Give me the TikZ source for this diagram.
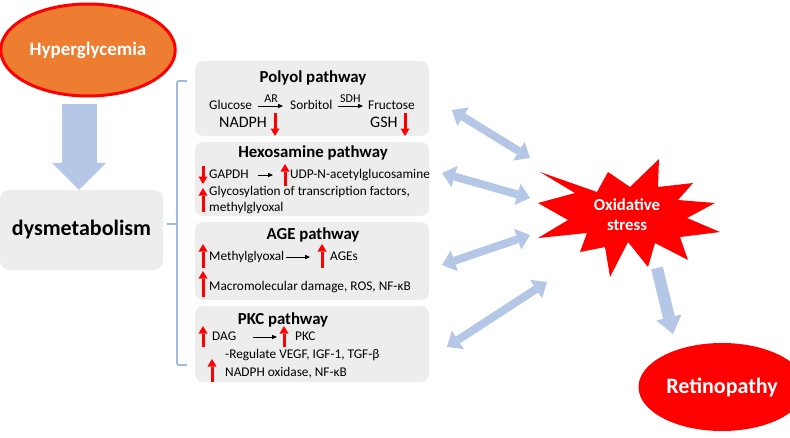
\documentclass[tikz,border=0pt]{standalone}
\usepackage{fontspec}
\setmainfont{Carlito}
\usetikzlibrary{arrows.meta,positioning,shapes.geometric}
\definecolor{boxgray}{HTML}{EDEDED}
\definecolor{flowblue}{HTML}{B4C7E7}
\definecolor{bracketblue}{HTML}{A2B9E2}
\definecolor{hyperorange}{HTML}{ED7D31}

\begin{document}
\begin{tikzpicture}[x=1pt,y=-1pt,
 pathbox/.style={fill=boxgray,rounded corners=8pt,minimum width=234pt,inner sep=0pt},
 title/.style={font=\bfseries\fontsize{16.8}{18}\selectfont,inner sep=0pt},
 txt/.style={font=\fontsize{13.3}{15}\selectfont,inner sep=0pt,text height=9.3pt,text depth=2.9pt,anchor=west},
 bigtxt/.style={txt,font=\fontsize{16}{18}\selectfont,text height=11pt,text depth=3.4pt},
 lbl/.style={font=\fontsize{12}{14}\selectfont,inner sep=0pt},
 react/.style={draw,line width=0.7pt,-{Triangle[width=4.5pt,length=5pt,line width=0pt]}},
 redarr/.style={draw=red,line width=3pt,-{Triangle[width=9pt,length=7.5pt,line width=0pt]}},
 flow/.style={draw=flowblue,line width=8pt,
 {Triangle[width=22pt,length=13pt,line width=0pt]}-{Triangle[width=22pt,length=13pt,line width=0pt]}},
 bigflow/.style={draw=flowblue,line width=35pt,-{Triangle[width=54pt,length=27pt,line width=0pt]}},
 outflow/.style={draw=flowblue,line width=12pt,-{Triangle[width=26pt,length=17pt,line width=0pt]}},
 bracket/.style={draw=bracketblue,line width=1.8pt,rounded corners=2pt}]
\useasboundingbox (0,0) rectangle (790,437);

\node[ellipse,draw=red,line width=3pt,fill=hyperorange,minimum width=139pt,minimum height=92pt,
 font=\bfseries\fontsize{19}{21}\selectfont,text=white] (hyper) at (88,50) {Hyperglycemia};
\node[fill=boxgray,rounded corners=9pt,minimum width=163pt,minimum height=80pt,
 font=\bfseries\fontsize{22}{25}\selectfont] (dysm) at (81.5,230) {dysmetabolism};
\draw[bigflow] ([xshift=-2.5pt,yshift=-6pt]hyper.south -| dysm.north) -- ([xshift=-2.5pt]dysm.north);

\draw[bracket] (187,81) -- (177,81) -- (177,365) -- (187,365);
\draw[bracket] (177,224) -- (167,224);

% pathway boxes
\node[pathbox,minimum height=75pt] (polyol) at (312,98.5) {};
\node[pathbox,minimum height=74pt] (hexo) at (312,179) {};
\node[pathbox,minimum height=78pt] (age) at (312,261) {};
\node[pathbox,minimum height=76pt] (pkc) at (312,344) {};

\node[title] at (313,78) {Polyol pathway};
\node[txt] (glucose) at (209,106) {Glucose};
\node[txt] (sorbitol) at (290,106) {Sorbitol};
\node[txt] (fructose) at (368,106) {Fructose};
\draw[react,shorten <=6pt,shorten >=7pt] (glucose) -- node[lbl,above=3pt] {AR} (sorbitol);
\draw[react,shorten <=5pt,shorten >=5pt] (sorbitol) -- node[lbl,above=3pt] {SDH} (fructose);
\node[bigtxt] (nadph) at (219,124) {NADPH};
\node[bigtxt] (gsh) at (370,124) {GSH};
\draw[redarr] (275,113) -- (275,136);
\draw[redarr] (405,113) -- (405,136);

\node[title] at (313,153) {Hexosamine pathway};
\node[txt] (gapdh) at (209,175) {GAPDH};
\node[txt] (udp) at (290,175) {UDP-N-acetylglucosamine};
\draw[react,shorten <=9pt,shorten >=17pt] (gapdh) -- (udp);
\node[txt] (glyco) at (209,192) {Glycosylation of transcription factors,};
\node[txt] (mgo) at (209,208) {methylglyoxal};
\draw[redarr] (203,166) -- (203,184);
\draw[redarr] (285,186) -- (285,164);
\draw[redarr] (203,212) -- (203,188);

\node[title] at (313,235) {AGE pathway};
\node[txt] (methyl) at (209,257) {Methylglyoxal};
\node[txt] (ages) at (330,257) {AGEs};
\draw[react,shorten <=2pt,shorten >=20pt] (methyl) -- (ages);
\node[txt] (macro) at (209,287) {Macromolecular damage, ROS, NF-κB};
\draw[redarr] (203,268) -- (203,244);
\draw[redarr] (322,268) -- (322,244);
\draw[redarr] (203,297) -- (203,271);

\node[title] at (283,320) {PKC pathway};
\node[txt] (dag) at (212,337) {DAG};
\node[txt] (pkctxt) at (295,337) {PKC};
\draw[react,shorten <=17pt,shorten >=18pt] (dag) -- (pkctxt);
\node[txt] (vegf) at (225,355) {-Regulate VEGF, IGF-1, TGF-β};
\node[txt] (nox) at (225,373) {NADPH oxidase, NF-κB};
\draw[redarr] (203,347) -- (203,326);
\draw[redarr] (284,347) -- (284,326);
\draw[redarr] (212,382) -- (212,359);

% oxidative stress
\fill[red] (540,172) -- (597,192) -- (608,172) -- (630,187) -- (659,159) -- (658,187)
 -- (693,183) -- (678,200) -- (715,203) -- (687,218) -- (720,232) -- (680,237)
 -- (688,260) -- (655,243) -- (648,267) -- (628,242) -- (610,277) -- (605,247)
 -- (580,252) -- (587,233) -- (538,238) -- (568,220) -- (538,203) -- (575,193) -- cycle;
\node[align=center,text=white,font=\bfseries\fontsize{16.8}{20}\selectfont] (ox) at (627,215) {Oxidative\\stress};

\node[ellipse,fill=red,minimum width=130pt,minimum height=88pt,
 font=\bfseries\fontsize{22}{24}\selectfont,text=white] (retina) at (722,387) {Retinopathy};

\coordinate (b1) at (452,110); \coordinate (s1) at (530,158);
\coordinate (b2) at (442,173); \coordinate (s2) at (530,198);
\coordinate (b3) at (442,265); \coordinate (s3) at (530,235);
\coordinate (b4) at (447,347); \coordinate (s4) at (547,282);
\draw[flow] (b1) -- (s1);
\draw[flow] (b2) -- (s2);
\draw[flow] (b3) -- (s3);
\draw[flow] (b4) -- (s4);
\coordinate (oxout) at (657,268); \coordinate (retin) at (673,334);
\draw[outflow] (oxout) -- (retin);
\end{tikzpicture}
\end{document}
